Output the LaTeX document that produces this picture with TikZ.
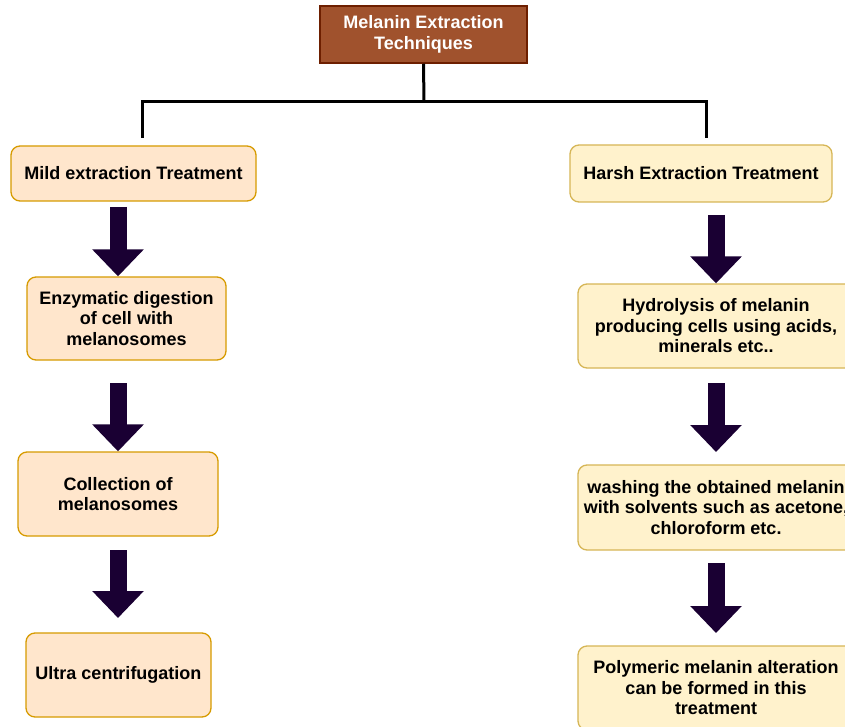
\documentclass[tikz,border=0pt]{standalone}
\usepackage{fontspec}
\setmainfont{Liberation Sans}
\usetikzlibrary{arrows.meta}
\definecolor{titlefill}{HTML}{A0522D}
\definecolor{titledraw}{HTML}{6D1F00}
\definecolor{mildfill}{HTML}{FFE6CC}
\definecolor{milddraw}{HTML}{D79B00}
\definecolor{harshfill}{HTML}{FFF2CC}
\definecolor{harshdraw}{HTML}{D6B656}
\definecolor{arrowfill}{HTML}{1A0033}
\tikzset{
  txt/.style={font=\fontsize{18}{20.5}\selectfont\bfseries, align=center, inner sep=0pt},
  titlebox/.style={txt, draw=titledraw, fill=titlefill, text=white, line width=1.5pt},
  mildbox/.style={txt, draw=milddraw, fill=mildfill, line width=1.3pt, rounded corners=9pt},
  harshbox/.style={txt, draw=harshdraw, fill=harshfill, line width=1.3pt, rounded corners=9pt},
  tree/.style={line width=3pt, black, line join=miter},
  blockarrow/.style={line width=17pt, arrowfill, -{Triangle[length=27pt,width=50pt]}}
}
\begin{document}
\begin{tikzpicture}[x=1pt,y=-1pt]
\useasboundingbox (0,0) rectangle (845,727);
\clip (0,0) rectangle (845,727);
\fill[white] (0,0) rectangle (845,727);

\node[titlebox, minimum width=207pt, minimum height=57pt] (top) at (423.5,34.5) {Melanin Extraction\\Techniques};

\node[mildbox, minimum width=245pt, minimum height=55pt] (mild) at (133.5,173.5) {Mild extraction Treatment};
\node[mildbox, minimum width=199pt, minimum height=83pt] (enz) at (126.5,318.5) {Enzymatic digestion\\of cell with\\melanosomes};
\node[mildbox, minimum width=200pt, minimum height=84pt] (coll) at (118,494) {Collection of\\melanosomes};
\node[mildbox, minimum width=185pt, minimum height=84pt] (ultra) at (118.5,675) {Ultra centrifugation};

\node[harshbox, minimum width=262pt, minimum height=57pt] (harsh) at (701,173.5) {Harsh Extraction Treatment};
\node[harshbox, minimum width=276pt, minimum height=84pt] (hydro) at (716,326) {Hydrolysis of melanin\\producing cells using acids,\\minerals etc..};
\node[harshbox, minimum width=276pt, minimum height=85pt] (wash) at (716,507.5) {washing the obtained melanin\\with solvents such as acetone,\\chloroform etc.};
\node[harshbox, minimum width=276pt, minimum height=84pt] (poly) at (716,688) {Polymeric melanin alteration\\can be formed in this\\treatment};

% tree connector
\coordinate (bar) at (424,102);
\coordinate (cm) at (142,138);
\coordinate (ch) at (706,138);
\draw[tree] (top.south) -- (bar);
\draw[tree] (cm) |- (bar) -| (ch);

% left arrows
\coordinate (la1) at (118,207);
\coordinate (la2) at (118,383);
\coordinate (la3) at (118,550);
\coordinate (lt3) at (118,618);
\draw[blockarrow] (la1) -- (la1 |- enz.north);
\draw[blockarrow] (la2) -- (la2 |- coll.north);
\draw[blockarrow] (la3) -- (lt3);

% right arrows
\coordinate (ra1) at (716,215);
\coordinate (ra2) at (716,383);
\coordinate (rt2) at (716,452);
\coordinate (ra3) at (716,563);
\coordinate (rt3) at (716,633);
\draw[blockarrow] (ra1) -- (ra1 |- hydro.north);
\draw[blockarrow] (ra2) -- (rt2);
\draw[blockarrow] (ra3) -- (rt3);
\end{tikzpicture}
\end{document}
